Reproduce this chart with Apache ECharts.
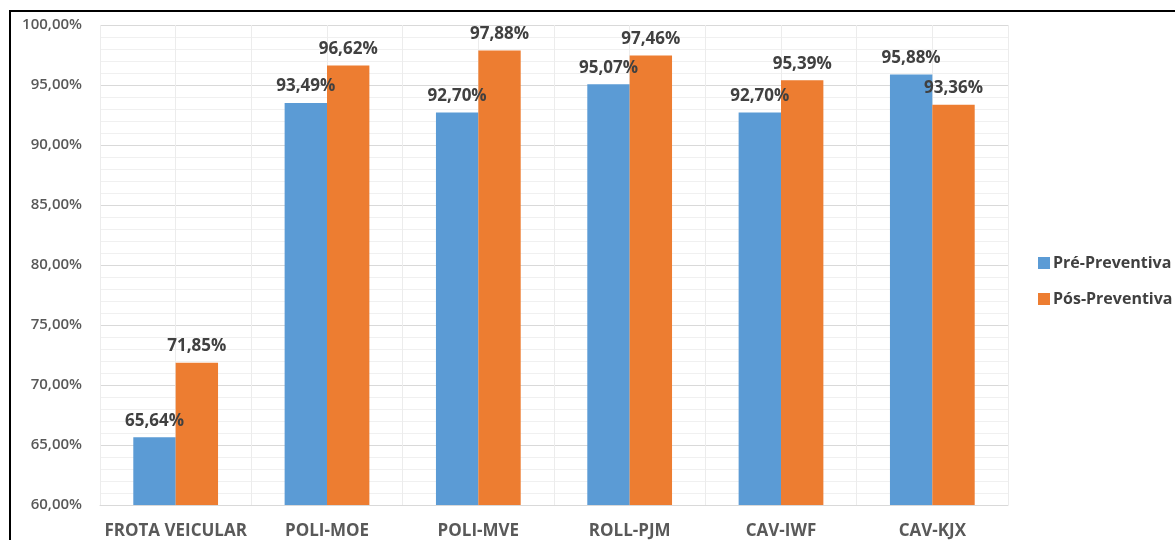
<!DOCTYPE html>
<html>
<head>
<meta charset="utf-8">
<script src="https://cdn.jsdelivr.net/npm/echarts@6/dist/echarts.min.js"></script>
<style>
  html, body { margin: 0; padding: 0; background: #ffffff; }
  #chart { width: 1175px; height: 540px; }
</style>
</head>
<body>
<div id="chart"></div>
<script>
// Availability per fleet group, before and after preventive maintenance (%)
const categories = ['FROTA VEICULAR', 'POLI-MOE', 'POLI-MVE', 'ROLL-PJM', 'CAV-IWF', 'CAV-KJX'];
const preValues = [65.64, 93.49, 92.70, 95.07, 92.70, 95.88];
const posValues = [71.85, 96.62, 97.88, 97.46, 95.39, 93.36];
const seriesNames = ['Pré-Preventiva', 'Pós-Preventiva'];

const fontFamily = '"Open Sans", Lato, "DejaVu Sans", sans-serif';
const fmtPct = v => v.toFixed(2).replace('.', ',') + '%';

const chart = echarts.init(document.getElementById('chart'), null, { renderer: 'canvas' });

const labelStyle = {
  show: true,
  position: 'top',
  distance: 8,
  color: '#404040',
  fontFamily: fontFamily,
  fontWeight: 'bold',
  fontSize: 17,
  formatter: p => fmtPct(p.value)
};

chart.setOption({
  animation: false,
  backgroundColor: '#ffffff',
  // outer frame of the figure
  graphic: [
    { type: 'line', shape: { x1: 9, y1: 11, x2: 1175, y2: 11 }, style: { stroke: '#000000', lineWidth: 2 }, z: 10 },
    { type: 'line', shape: { x1: 10, y1: 10, x2: 10, y2: 540 }, style: { stroke: '#000000', lineWidth: 2 }, z: 10 }
  ],
  legend: {
    orient: 'vertical',
    left: 1033,
    top: 250,
    itemWidth: 12,
    itemHeight: 12,
    itemGap: 20,
    icon: 'rect',
    textStyle: { color: '#404040', fontFamily: fontFamily, fontWeight: 'bold', fontSize: 16, padding: [0, 0, 0, -2] },
    data: seriesNames
  },
  grid: { left: 100, right: 167, top: 25, bottom: 35, containLabel: false },
  xAxis: [
    {
      type: 'category',
      data: categories,
      axisLine: { show: true, lineStyle: { color: '#d9d9d9', width: 1 } },
      axisTick: { show: false },
      splitLine: { show: false },
      axisLabel: {
        interval: 0,
        color: '#595959',
        fontFamily: fontFamily,
        fontWeight: 'bold',
        fontSize: 17,
        margin: 18
      }
    },
    {
      // helper axis for the vertical guide lines at half-category steps
      type: 'value',
      min: 0,
      max: 6,
      interval: 0.5,
      show: true,
      position: 'bottom',
      axisLine: { show: false },
      axisTick: { show: false },
      axisLabel: { show: false },
      splitLine: { show: true, lineStyle: { color: '#ececec', width: 1 } }
    }
  ],
  yAxis: {
    type: 'value',
    min: 60,
    max: 100,
    interval: 5,
    axisLine: { show: false },
    axisTick: { show: false },
    axisLabel: {
      color: '#595959',
      fontFamily: fontFamily,
      fontWeight: 600,
      fontSize: 15,
      margin: 18,
      formatter: v => fmtPct(v)
    },
    splitLine: { show: true, lineStyle: { color: '#d9d9d9', width: 1 } },
    minorTick: { show: false, splitNumber: 5 },
    minorSplitLine: { show: true, lineStyle: { color: '#f0f0f0', width: 1 } }
  },
  series: [
    {
      name: seriesNames[0],
      type: 'bar',
      data: preValues,
      xAxisIndex: 0,
      barGap: '0%',
      barCategoryGap: '44%',
      itemStyle: { color: '#5b9bd5' },
      label: labelStyle,
      z: 3
    },
    {
      name: seriesNames[1],
      type: 'bar',
      data: posValues,
      xAxisIndex: 0,
      barGap: '0%',
      barCategoryGap: '44%',
      itemStyle: { color: '#ed7d31' },
      label: labelStyle,
      z: 3
    }
  ]
});
</script>
</body>
</html>
